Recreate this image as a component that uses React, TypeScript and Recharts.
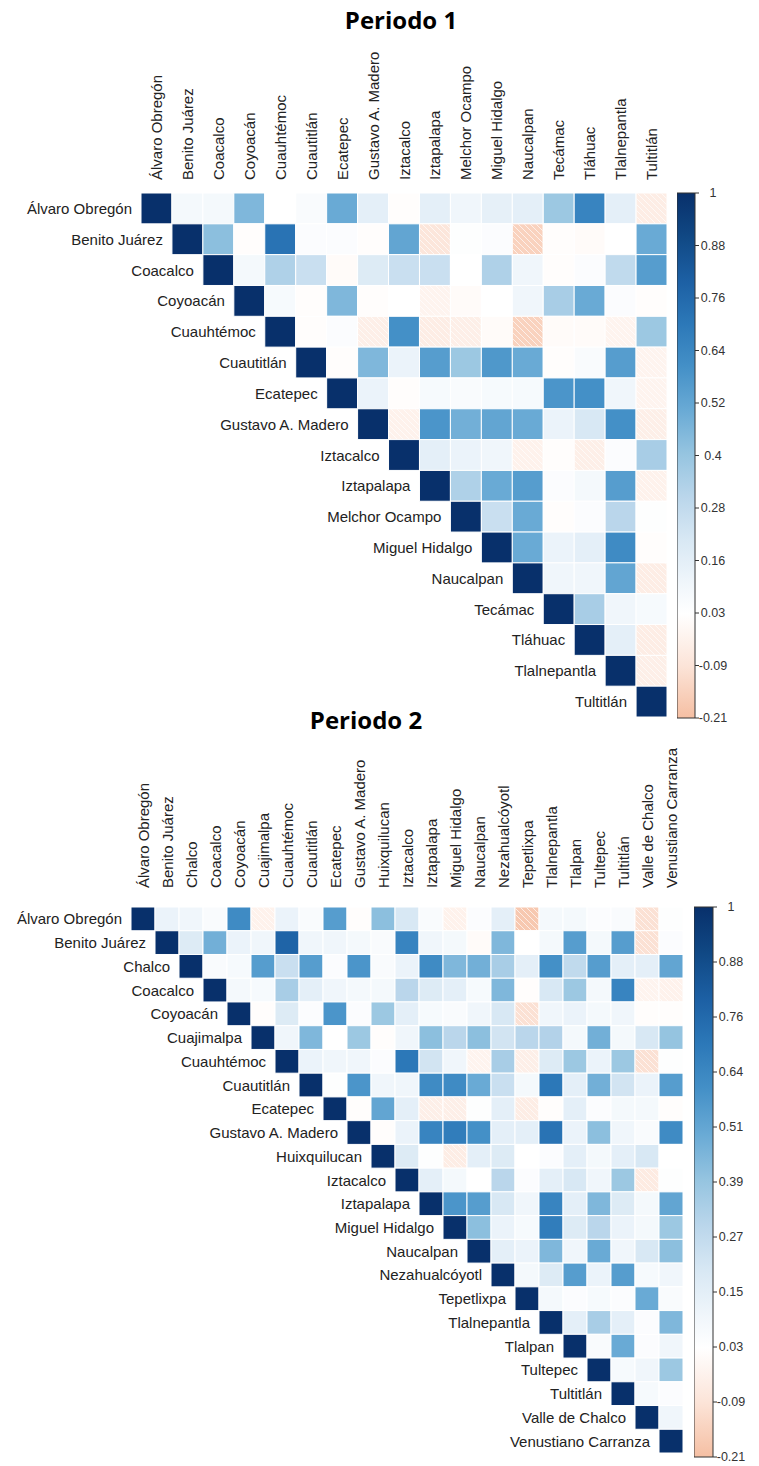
import { ScatterChart, Scatter, XAxis, YAxis, BarChart, Bar } from 'recharts'

// ---- Periodo 1 ----
const period1Names = [
  'Álvaro Obregón', 'Benito Juárez', 'Coacalco', 'Coyoacán', 'Cuauhtémoc', 'Cuautitlán',
  'Ecatepec', 'Gustavo A. Madero', 'Iztacalco', 'Iztapalapa', 'Melchor Ocampo',
  'Miguel Hidalgo', 'Naucalpan', 'Tecámac', 'Tláhuac', 'Tlalnepantla', 'Tultitlán',
]

// upper triangle, row i holds correlations with columns i+1..n-1
const period1Upper = [
  [0.08, 0.08, 0.45, 0.03, 0.06, 0.5, 0.15, 0.02, 0.15, 0.1, 0.14, 0.15, 0.38, 0.65, 0.15, -0.05],
  [0.42, 0.02, 0.72, 0.05, 0.05, 0.02, 0.52, -0.08, 0.04, 0.05, -0.15, 0.02, 0.01, 0.03, 0.5],
  [0.08, 0.33, 0.25, 0.01, 0.18, 0.25, 0.25, 0.03, 0.33, 0.1, 0.02, 0.05, 0.28, 0.55],
  [0.07, 0.02, 0.45, 0.02, 0.03, -0.02, 0.01, 0.03, 0.1, 0.35, 0.5, 0.05, 0.02],
  [0.02, 0.05, -0.04, 0.6, -0.05, -0.04, 0.01, -0.15, 0.01, 0.01, -0.02, 0.38],
  [0.02, 0.45, 0.12, 0.55, 0.38, 0.57, 0.5, 0.02, 0.06, 0.55, -0.02],
  [0.12, 0.02, 0.07, 0.06, 0.07, 0.07, 0.58, 0.6, 0.1, -0.02],
  [-0.03, 0.58, 0.48, 0.52, 0.5, 0.12, 0.2, 0.6, -0.04],
  [0.15, 0.12, 0.1, -0.03, 0.02, -0.04, 0.05, 0.35],
  [0.33, 0.5, 0.55, 0.05, 0.08, 0.55, -0.03],
  [0.25, 0.5, 0.02, 0.05, 0.3, 0.04],
  [0.5, 0.12, 0.15, 0.62, 0.02],
  [0.1, 0.1, 0.52, -0.05],
  [0.35, 0.1, 0.07],
  [0.15, -0.05],
  [-0.04],
]

const period1Scale = ['1', '0.88', '0.76', '0.64', '0.52', '0.4', '0.28', '0.16', '0.03', '-0.09', '-0.21']

// ---- Periodo 2 ----
const period2Names = [
  'Álvaro Obregón', 'Benito Juárez', 'Chalco', 'Coacalco', 'Coyoacán', 'Cuajimalpa',
  'Cuauhtémoc', 'Cuautitlán', 'Ecatepec', 'Gustavo A. Madero', 'Huixquilucan', 'Iztacalco',
  'Iztapalapa', 'Miguel Hidalgo', 'Naucalpan', 'Nezahualcóyotl', 'Tepetlixpa', 'Tlalnepantla',
  'Tlalpan', 'Tultepec', 'Tultitlán', 'Valle de Chalco', 'Venustiano Carranza',
]

const period2Upper = [
  [0.12, 0.1, 0.06, 0.62, -0.03, 0.12, 0.06, 0.55, 0.02, 0.42, 0.2, 0.06, -0.03, 0.05, 0.15, -0.18, 0.08, 0.08, 0.05, 0.06, -0.1, 0.04],
  [0.18, 0.48, 0.12, 0.1, 0.78, 0.1, 0.1, 0.08, 0.06, 0.65, 0.1, 0.08, 0.01, 0.45, 0.03, 0.08, 0.55, 0.08, 0.55, -0.1, 0.05],
  [0.06, 0.07, 0.55, 0.25, 0.55, 0.05, 0.58, 0.06, 0.12, 0.62, 0.45, 0.48, 0.35, 0.15, 0.6, 0.28, 0.55, 0.15, 0.15, 0.52],
  [0.08, 0.07, 0.35, 0.15, 0.1, 0.08, 0.08, 0.3, 0.18, 0.15, 0.07, 0.45, 0.02, 0.2, 0.38, 0.08, 0.65, -0.02, -0.03],
  [0.02, 0.18, 0.05, 0.58, 0.05, 0.38, 0.15, 0.07, 0.06, 0.1, 0.2, -0.1, 0.1, 0.12, 0.08, 0.1, 0.02, 0.02],
  [0.1, 0.45, 0.03, 0.38, 0.02, 0.1, 0.42, 0.3, 0.42, 0.22, 0.3, 0.32, 0.08, 0.48, 0.08, 0.2, 0.4],
  [0.12, 0.1, 0.1, 0.05, 0.7, 0.22, 0.1, -0.02, 0.35, -0.04, 0.18, 0.38, 0.12, 0.38, -0.1, 0.04],
  [0.04, 0.58, 0.1, 0.1, 0.62, 0.62, 0.5, 0.25, 0.08, 0.7, 0.15, 0.48, 0.22, 0.12, 0.55],
  [0.02, 0.52, 0.15, -0.04, -0.04, 0.04, 0.15, -0.05, 0.02, 0.15, 0.05, 0.08, 0.08, 0.02],
  [0.02, 0.12, 0.65, 0.68, 0.6, 0.15, 0.15, 0.72, 0.12, 0.42, 0.1, 0.06, 0.62],
  [0.18, 0.04, -0.05, 0.15, 0.18, 0.03, 0.05, 0.15, 0.08, 0.15, 0.2, 0.03],
  [0.15, 0.08, 0.03, 0.3, 0.05, 0.15, 0.2, 0.1, 0.38, -0.06, 0.04],
  [0.58, 0.55, 0.2, 0.1, 0.65, 0.15, 0.45, 0.18, 0.08, 0.52],
  [0.42, 0.12, 0.07, 0.68, 0.18, 0.3, 0.12, 0.08, 0.38],
  [0.15, 0.12, 0.45, 0.1, 0.5, 0.1, 0.2, 0.42],
  [0.08, 0.18, 0.55, 0.12, 0.55, 0.07, 0.1],
  [0.08, 0.05, 0.07, 0.05, 0.5, 0.06],
  [0.15, 0.35, 0.15, 0.05, 0.45],
  [0.06, 0.5, 0.05, 0.1],
  [0.07, 0.1, 0.38],
  [0.07, 0.05],
  [0.1],
]

const period2Scale = ['1', '0.88', '0.76', '0.64', '0.51', '0.39', '0.27', '0.15', '0.03', '-0.09', '-0.21']

// colour ramp, salmon for negatives through white to navy
const ramp: [number, string][] = [
  [-0.21, '#f5bfa3'],
  [-0.09, '#fce4d8'],
  [0.03, '#ffffff'],
  [0.1, '#f0f6fb'],
  [0.2, '#d8e8f4'],
  [0.3, '#bad6eb'],
  [0.4, '#95c4e0'],
  [0.5, '#69aad5'],
  [0.6, '#4490c7'],
  [0.7, '#2c78b8'],
  [0.8, '#1c5fa3'],
  [0.9, '#104884'],
  [1, '#08306b'],
]
const RAMP_MIN = -0.21
const RAMP_MAX = 1

const hex = (c: string) => [1, 3, 5].map(i => parseInt(c.slice(i, i + 2), 16))

function corrColor(v: number) {
  if (v <= ramp[0][0]) return ramp[0][1]
  for (let i = 1; i < ramp.length; i++) {
    const [v1, c1] = ramp[i]
    if (v <= v1) {
      const [v0, c0] = ramp[i - 1]
      const t = (v - v0) / (v1 - v0)
      const a = hex(c0), b = hex(c1)
      const mix = a.map((x, k) => Math.round(x + (b[k] - x) * t))
      return `rgb(${mix.join(',')})`
    }
  }
  return ramp[ramp.length - 1][1]
}

function buildCells(upper: number[][], n: number) {
  const cells: { row: number; col: number; v: number }[] = []
  for (let i = 0; i < n; i++) {
    cells.push({ row: i, col: i, v: 1 })
    const vals = upper[i] || []
    vals.forEach((v, k) => cells.push({ row: i, col: i + 1 + k, v }))
  }
  return cells
}

const LABEL_FONT = '"Liberation Sans", Arial, sans-serif'
const AXIS_H = 160
const PAGE_W = 759

type Box = { left: number; top: number; w: number; h: number }

function Heatmap({ names, upper, box, chartH, headGap, id }: {
  names: string[]; upper: number[][]; box: Box; chartH: number; headGap: number; id: string
}) {
  const n = names.length
  const cw = box.w / n
  const ch = box.h / n
  const cells = buildCells(upper, n)

  const renderCell = (p: any) => {
    const { cx, cy, payload } = p
    const x0 = cx - cw / 2
    const y0 = cy - ch / 2
    return (
      <g>
        <rect x={x0} y={y0} width={cw} height={ch} fill={corrColor(payload.v)} stroke="#fff" strokeWidth={1} />
        {payload.v < 0 && (
          <rect x={x0 + 0.5} y={y0 + 0.5} width={cw - 1} height={ch - 1} fill={`url(#${id}-hatch)`} />
        )}
        {payload.row === payload.col && (
          <text x={x0 - 9} y={cy} textAnchor="end" dominantBaseline="central"
            fontFamily={LABEL_FONT} fontSize={15} fill="#222">
            {names[payload.row]}
          </text>
        )}
      </g>
    )
  }

  const renderHead = (p: any) => {
    const { x, payload } = p
    const y = box.top - headGap
    return (
      <text x={x} y={y} transform={`rotate(-90 ${x} ${y})`} textAnchor="start" dominantBaseline="central"
        fontFamily={LABEL_FONT} fontSize={15} fill="#222">
        {names[payload.value]}
      </text>
    )
  }

  return (
    <ScatterChart
      width={PAGE_W}
      height={chartH}
      margin={{ top: box.top - AXIS_H, left: box.left, right: PAGE_W - box.left - box.w, bottom: chartH - box.top - box.h }}
    >
      <defs>
        <pattern id={`${id}-hatch`} patternUnits="userSpaceOnUse" width={6} height={6}>
          <path d="M0,0 L6,6 M-1,5 L1,7 M5,-1 L7,1" stroke="#fff" strokeWidth={0.9} strokeOpacity={0.75} />
        </pattern>
      </defs>
      <XAxis
        type="number"
        dataKey="col"
        orientation="top"
        height={AXIS_H}
        domain={[-0.5, n - 0.5]}
        ticks={names.map((_, i) => i)}
        interval={0}
        tick={renderHead}
        axisLine={false}
        tickLine={false}
      />
      <YAxis type="number" dataKey="row" domain={[-0.5, n - 0.5]} reversed hide width={0} />
      <Scatter data={cells} shape={renderCell} isAnimationActive={false} />
    </ScatterChart>
  )
}

function ColorBar({ labels, id, barW, barH }: { labels: string[]; id: string; barW: number; barH: number }) {
  const top = labels.length - 1
  const data = [{ name: 'escala', span: [0, top] }]
  // gradient runs top (1) to bottom (-0.21), so stops go from the high end down
  const stops = [...ramp].reverse()
  const renderTick = (p: any) => {
    const { x, y, payload } = p
    return (
      <text x={x + 12} y={y} textAnchor="middle" dominantBaseline="central"
        fontFamily={LABEL_FONT} fontSize={12.5} fill="#333">
        {labels[top - payload.value]}
      </text>
    )
  }
  return (
    <BarChart width={barW + 62} height={barH + 20} data={data} margin={{ top: 10, bottom: 10, left: 0, right: 0 }} barCategoryGap={0}>
      <defs>
        <linearGradient id={id} x1="0" y1="0" x2="0" y2="1">
          {stops.map(([v, c]) => (
            <stop key={v} offset={(RAMP_MAX - v) / (RAMP_MAX - RAMP_MIN)} stopColor={c} />
          ))}
        </linearGradient>
      </defs>
      <XAxis dataKey="name" hide />
      <YAxis
        orientation="right"
        type="number"
        domain={[0, top]}
        ticks={labels.map((_, i) => i)}
        interval={0}
        width={62}
        axisLine={false}
        tickSize={4}
        tickMargin={2}
        tickLine={{ stroke: '#333' }}
        tick={renderTick}
      />
      <Bar dataKey="span" fill={`url(#${id})`} stroke="#333" strokeWidth={1} isAnimationActive={false} />
    </BarChart>
  )
}

export default function App() {
  return (
    <div style={{ position: 'absolute', left: 0, top: 0, width: PAGE_W, height: 1466, background: '#fff', overflow: 'hidden' }}>
      <div style={{ position: 'absolute', left: 0, top: 0 }}>
        <Heatmap names={period1Names} upper={period1Upper} box={{ left: 141, top: 193, w: 526, h: 524 }} chartH={735} headGap={13} id="p1" />
      </div>
      <div style={{ position: 'absolute', left: 677, top: 183 }}>
        <ColorBar labels={period1Scale} id="p1-grad" barW={18} barH={525} />
      </div>

      <div style={{ position: 'absolute', left: 0, top: 735 }}>
        <Heatmap names={period2Names} upper={period2Upper} box={{ left: 131, top: 172, w: 552, h: 546 }} chartH={731} headGap={19} id="p2" />
      </div>
      <div style={{ position: 'absolute', left: 694, top: 897 }}>
        <ColorBar labels={period2Scale} id="p2-grad" barW={19} barH={550} />
      </div>

      <svg width={PAGE_W} height={1466} style={{ position: 'absolute', left: 0, top: 0, pointerEvents: 'none' }}>
        <text x={401} y={29} textAnchor="middle" fontFamily='"Open Sans", sans-serif' fontWeight={700} fontSize={24} fill="#000">
          Periodo 1
        </text>
        <text x={366} y={729} textAnchor="middle" fontFamily='"Open Sans", sans-serif' fontWeight={700} fontSize={24} fill="#000">
          Periodo 2
        </text>
      </svg>
    </div>
  )
}
